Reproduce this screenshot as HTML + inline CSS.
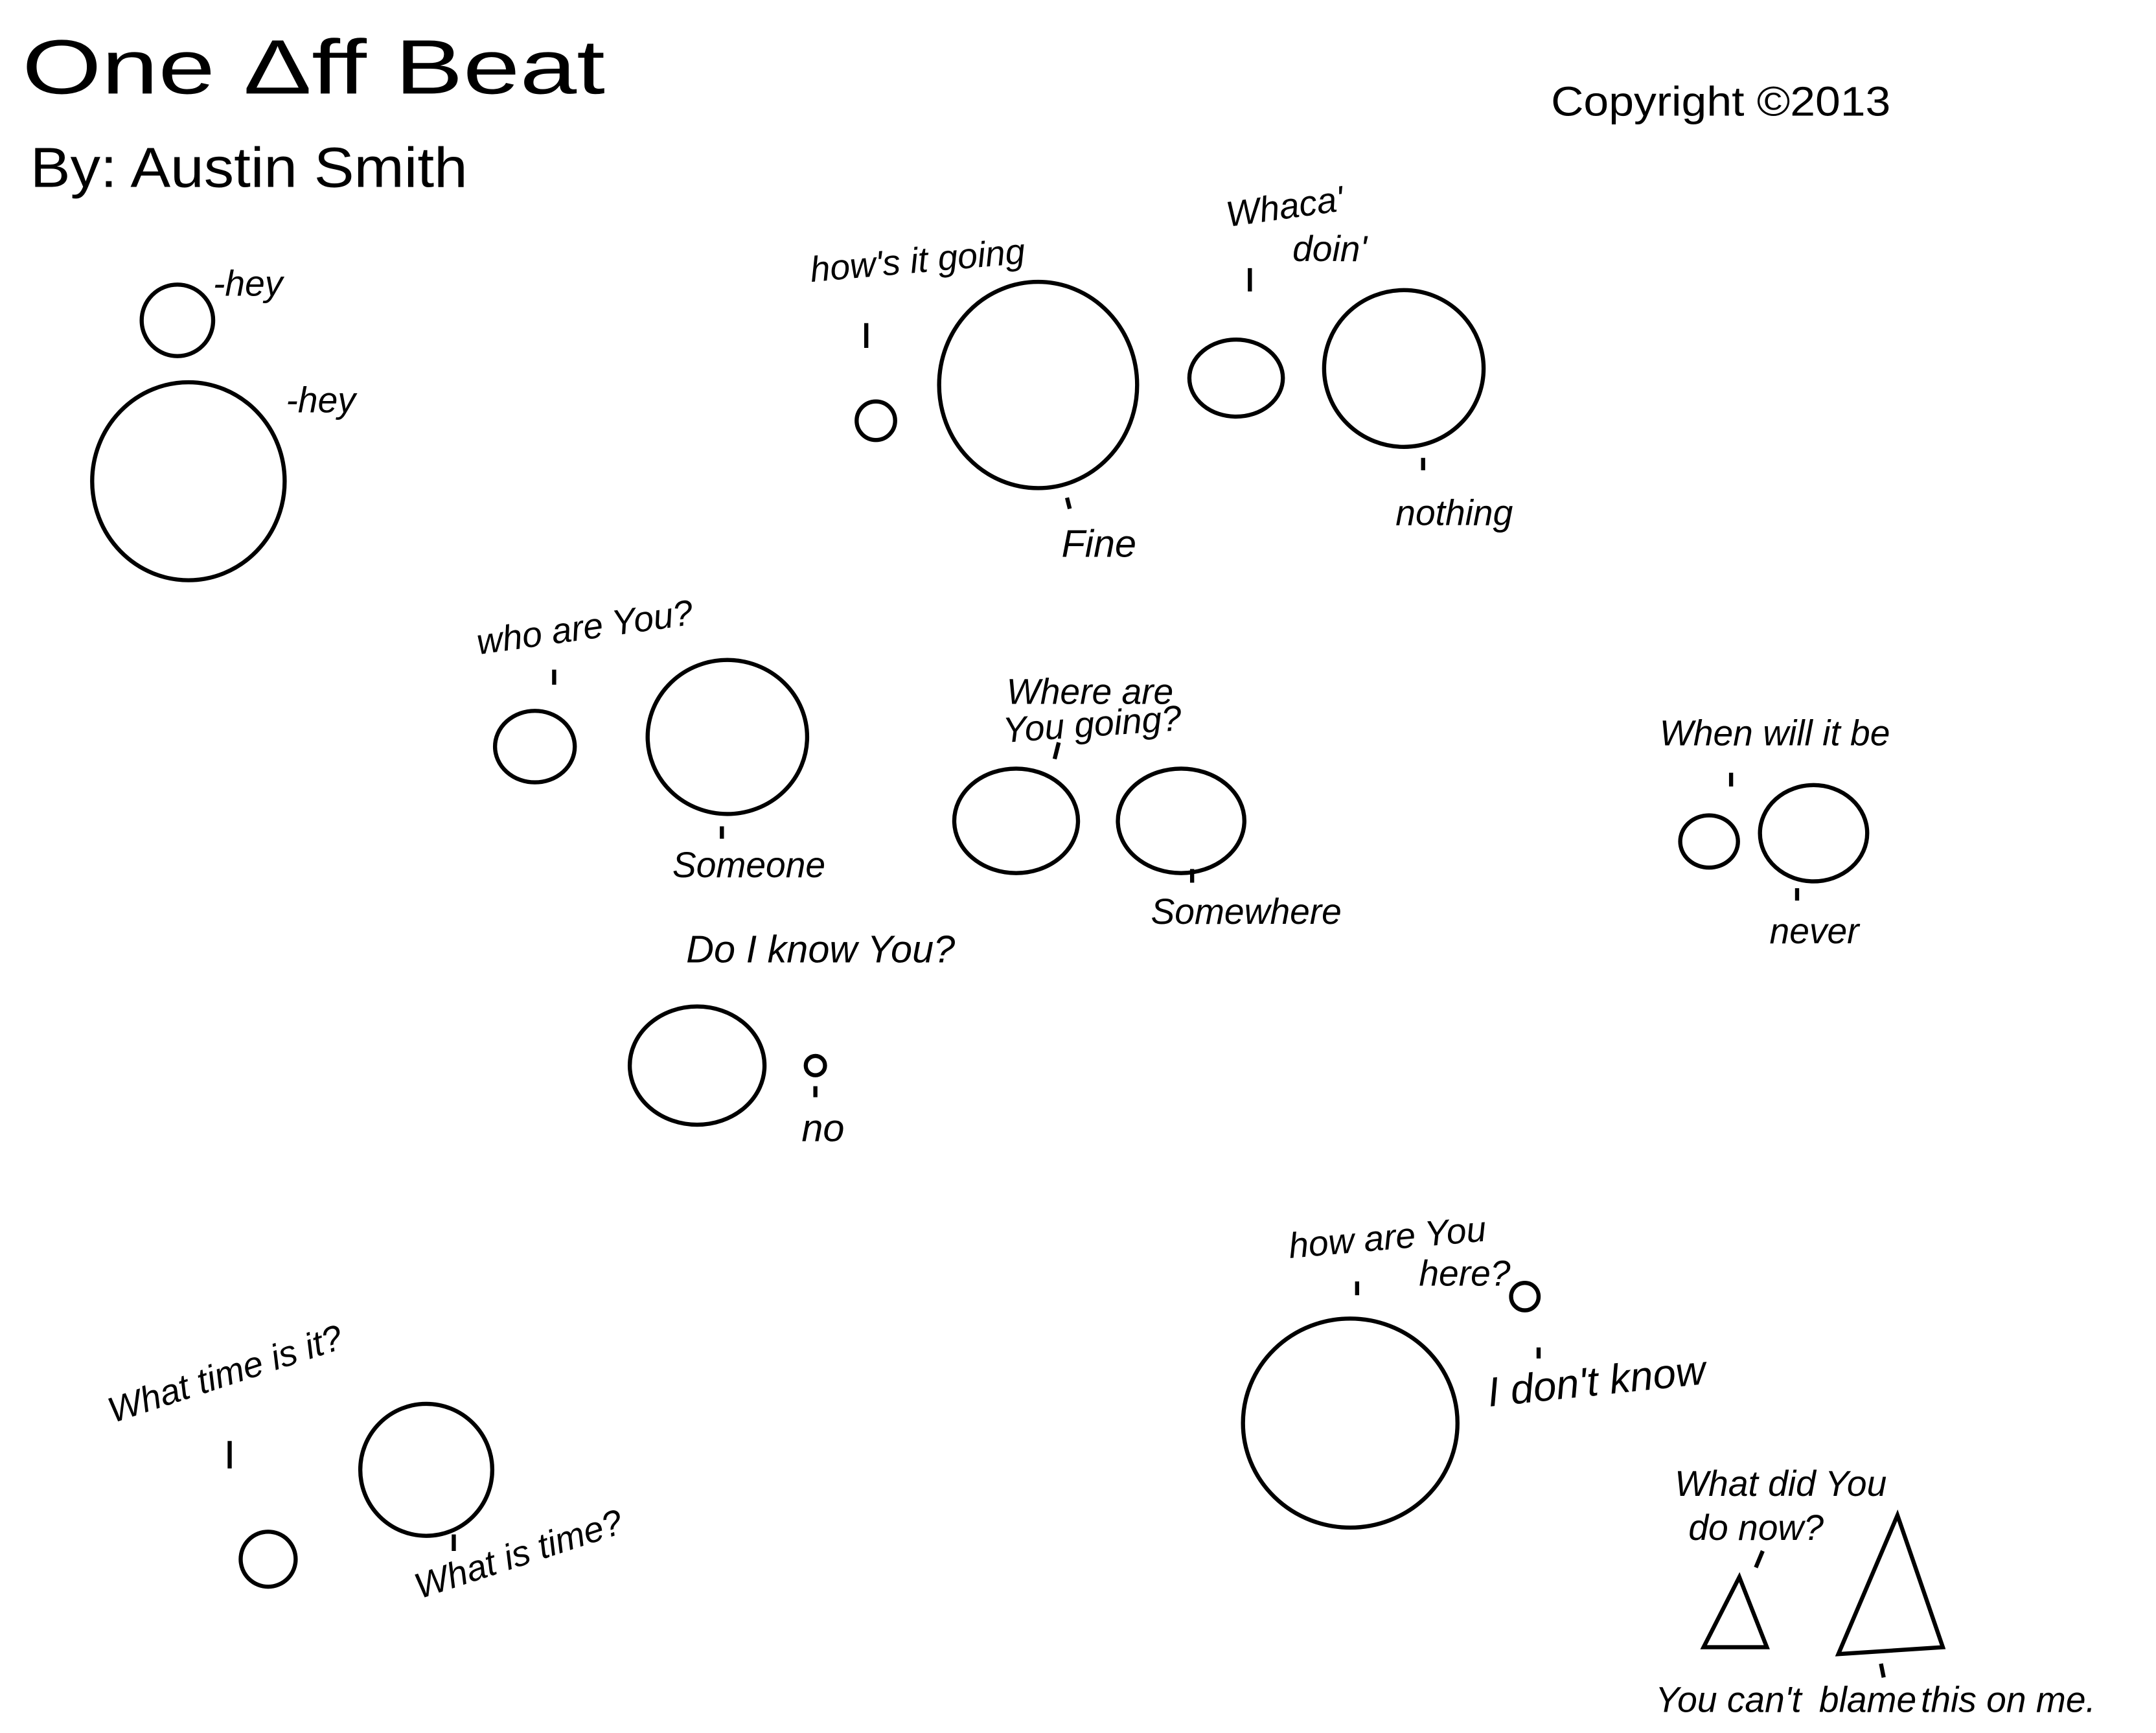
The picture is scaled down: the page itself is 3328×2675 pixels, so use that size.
<!DOCTYPE html>
<html><head><meta charset="utf-8"><style>
html,body{margin:0;padding:0;background:#fff;}
svg{display:block;}
.h{font-family:"Liberation Sans",sans-serif;font-style:italic;fill:#000;}
</style></head><body>
<svg width="3328" height="2675" viewBox="0 0 1568 1260.4" xmlns="http://www.w3.org/2000/svg">
<rect width="1568" height="1261" fill="#fff"/>
<g fill="none" stroke="#000" stroke-width="3">
<circle cx="129" cy="233" r="26"/>
<ellipse cx="137" cy="350" rx="70" ry="72"/>
<circle cx="637" cy="306" r="14"/>
<ellipse cx="755" cy="280" rx="72" ry="75"/>
<ellipse cx="899" cy="275" rx="34" ry="28"/>
<ellipse cx="1021" cy="268" rx="58" ry="57"/>
<ellipse cx="389" cy="543" rx="29" ry="26"/>
<ellipse cx="529" cy="536" rx="58" ry="56"/>
<ellipse cx="739" cy="597" rx="45" ry="38"/>
<ellipse cx="859" cy="597" rx="46" ry="38"/>
<ellipse cx="1243" cy="612" rx="21" ry="19"/>
<ellipse cx="1319" cy="606" rx="39" ry="35"/>
<ellipse cx="507" cy="775" rx="49" ry="43"/>
<circle cx="593" cy="775" r="7"/>
<circle cx="1109" cy="943" r="10"/>
<ellipse cx="982" cy="1035" rx="78" ry="76"/>
<ellipse cx="310" cy="1069" rx="48" ry="48"/>
<circle cx="195" cy="1134" r="20"/>
<polygon points="1265,1147 1239,1198 1285,1198"/>
<polygon points="1380,1102 1337,1203 1413,1198"/>
<path d="M630 235 V253 M909 195 V212 M776 362 L778 370 M1035 333 V342 M403 487 V498 M525 601 V610 M770 540 L767 552 M867 632 V642 M1259 562 V572 M1307 646 V655 M593 790 V798 M987 932 V942 M1119 980 V988 M167 1048 V1068 M330 1116 V1128 M1277 1140 L1282 1128 M1368 1210 L1370 1220"/>
</g>
<text x="16" y="68" font-family="Liberation Sans,sans-serif" font-size="56" font-weight="300" fill="#000" textLength="424" lengthAdjust="spacingAndGlyphs">One Δff Beat</text>
<text x="1128" y="84" font-family="Liberation Sans,sans-serif" font-size="30" fill="#000" textLength="247" lengthAdjust="spacingAndGlyphs">Copyright ©2013</text>
<text x="22" y="136" font-family="Liberation Sans,sans-serif" font-size="41" fill="#000" textLength="318" lengthAdjust="spacingAndGlyphs">By: Austin Smith</text>
<g class="h" font-size="26">
<text x="155" y="215">-hey</text>
<text x="208" y="300">-hey</text>
<text x="590" y="205" transform="rotate(-5 590 205)">how's it going</text>
<text x="893" y="165" transform="rotate(-8 893 165)">Whaca'</text>
<text x="940" y="190">doin'</text>
<text x="772" y="405" font-size="28">Fine</text>
<text x="1015" y="382">nothing</text>
<text x="348" y="476" transform="rotate(-8 348 476)">who are You?</text>
<text x="489" y="638">Someone</text>
<text x="732" y="512">Where are</text>
<text x="730" y="540" transform="rotate(-4 730 540)">You going?</text>
<text x="837" y="672">Somewhere</text>
<text x="1207" y="542">When will it be</text>
<text x="1287" y="686">never</text>
<text x="499" y="700" font-size="28">Do I know You?</text>
<text x="583" y="830" font-size="28">no</text>
<text x="938" y="915" transform="rotate(-5 938 915)">how are You</text>
<text x="1032" y="935">here?</text>
<text x="1083" y="1023" font-size="30" transform="rotate(-6 1083 1023)">I don't know</text>
<text x="82" y="1035" transform="rotate(-18 82 1035)">What time is it?</text>
<text x="305" y="1163" transform="rotate(-18 305 1163)">What is time?</text>
<text x="1218" y="1088">What did You</text>
<text x="1228" y="1120">do now?</text>
<text x="1204" y="1245">You can't</text>
<text x="1323" y="1245">blame</text>
<text x="1397" y="1245">this on me.</text>
</g>
</svg>
</body></html>
